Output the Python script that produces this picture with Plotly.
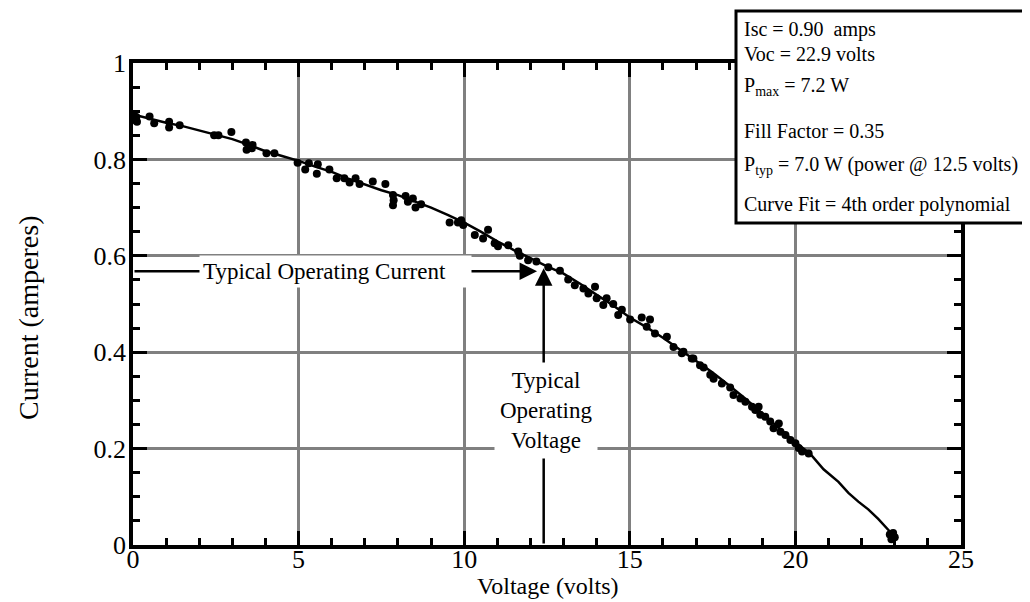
import plotly.graph_objects as go

# measured I-V points (volts, amps)
meas_v = [0.02, 0.05, 0.10, 0.12, 0.50, 0.64, 1.09, 1.09, 1.41, 2.45, 2.58, 2.97,
          3.41, 3.43, 3.61, 3.59, 4.03, 4.27, 4.97, 5.20, 5.31, 5.55, 5.58, 5.93,
          6.15, 6.38, 6.54, 6.72, 6.84, 7.24, 7.62, 7.85, 7.85, 7.87, 8.23, 8.30,
          8.45, 8.53, 8.70, 9.56, 9.81, 9.91, 9.97, 10.32, 10.57, 10.72, 10.92, 11.02,
          11.33, 11.63, 11.68, 11.93, 12.18, 12.54, 12.89, 13.14, 13.34, 13.60, 13.95,
          13.75, 14.00, 14.20, 14.30, 14.50, 14.65, 14.76, 15.01, 15.36, 15.61, 15.51,
          15.76, 16.12, 16.32, 16.57, 16.62, 16.87, 16.92, 17.12, 17.23, 17.43, 17.53,
          17.78, 18.03, 18.13, 18.34, 18.49, 18.69, 18.79, 18.89, 18.94, 19.09, 19.24,
          19.34, 19.50, 19.55, 19.70, 19.85, 20.00, 20.10, 20.20, 20.40,
          22.85, 22.90, 22.95, 23.00]
meas_i = [0.893, 0.882, 0.888, 0.878, 0.889, 0.875, 0.878, 0.866, 0.871, 0.850, 0.850, 0.857,
          0.835, 0.820, 0.830, 0.823, 0.813, 0.813, 0.793, 0.779, 0.792, 0.770, 0.790, 0.779,
          0.761, 0.761, 0.752, 0.761, 0.749, 0.754, 0.749, 0.726, 0.705, 0.715, 0.724, 0.712,
          0.719, 0.700, 0.707, 0.669, 0.669, 0.674, 0.664, 0.643, 0.636, 0.654, 0.626, 0.620,
          0.622, 0.609, 0.600, 0.591, 0.588, 0.576, 0.569, 0.551, 0.539, 0.532, 0.536,
          0.522, 0.512, 0.498, 0.512, 0.500, 0.477, 0.488, 0.468, 0.472, 0.468, 0.453,
          0.439, 0.432, 0.411, 0.398, 0.401, 0.387, 0.387, 0.373, 0.368, 0.353, 0.345,
          0.335, 0.327, 0.311, 0.304, 0.297, 0.287, 0.280, 0.287, 0.270, 0.266, 0.256,
          0.242, 0.252, 0.235, 0.228, 0.218, 0.211, 0.201, 0.194, 0.190,
          0.022, 0.012, 0.025, 0.016]

# curve fit line
fit_v = [0, 0.5, 1.0, 1.5, 2.0, 2.5, 3.0, 3.5, 4.0, 4.5, 5.0, 5.5, 6.0, 6.5, 7.0, 7.5,
         8.0, 8.5, 9.0, 9.5, 10.0, 10.5, 11.0, 11.5, 12.0, 12.5, 13.0, 13.5, 14.0, 14.5,
         15.0, 15.5, 16.0, 16.5, 17.0, 17.5, 18.0, 18.5, 19.0, 19.5, 20.0, 20.45, 20.85,
         21.3, 21.6, 21.9, 22.2, 22.5, 22.85]
fit_i = [0.893, 0.884, 0.876, 0.869, 0.860, 0.850, 0.842, 0.830, 0.817, 0.807, 0.797,
         0.785, 0.774, 0.760, 0.748, 0.736, 0.726, 0.713, 0.700, 0.685, 0.669, 0.650,
         0.630, 0.612, 0.595, 0.578, 0.563, 0.542, 0.519, 0.497, 0.472, 0.452, 0.430,
         0.406, 0.383, 0.358, 0.331, 0.303, 0.273, 0.244, 0.213, 0.189, 0.157, 0.131,
         0.108, 0.090, 0.074, 0.054, 0.028]

# operating point
op_v = 12.4
op_i = 0.574
cur_tip_v = 12.2
cur_i = 0.568

stats_lines = [
    "Isc = 0.90  amps",
    "Voc = 22.9 volts",
    "P<sub>max</sub> = 7.2 W",
    "Fill Factor = 0.35",
    "P<sub>typ</sub> = 7.0 W (power @ 12.5 volts)",
    "Curve Fit = 4th order polynomial",
]

# page has an 8px body margin, so the figure is drawn 8px in from the window corner
OFF = 8
W, H = 1022, 594
L, R, T, B = 125, 69, 55, 57
FONT = "Liberation Serif, Times New Roman, serif"


def px(sx):
    return (sx - OFF - L) / (W - L - R)


def py(sy):
    return (H - B - (sy - OFF)) / (H - T - B)


fig = go.Figure()
fig.add_trace(go.Scatter(x=fit_v, y=fit_i, mode="lines",
                         line=dict(color="black", width=2.5), cliponaxis=False))
fig.add_trace(go.Scatter(x=meas_v, y=meas_i, mode="markers",
                         marker=dict(color="black", size=8), cliponaxis=False))

axis_common = dict(
    showline=True, linewidth=3.5, linecolor="black", mirror="ticks",
    ticks="inside", ticklen=14, tickwidth=2.5, tickcolor="black",
    showgrid=True, gridcolor="#808080", zeroline=False,
    tickfont=dict(family=FONT, size=26, color="black"),
)
fig.update_xaxes(range=[0, 25], dtick=5, gridwidth=2.5, ticklabelstandoff=-12,
                 minor=dict(dtick=1, ticks="inside", ticklen=7, tickwidth=2.5,
                            tickcolor="black", showgrid=False),
                 **axis_common)
fig.update_yaxes(range=[0, 1], dtick=0.2, gridwidth=3, ticklabelstandoff=-2,
                 minor=dict(dtick=0.05, ticks="inside", ticklen=7, tickwidth=2.5,
                            tickcolor="black", showgrid=False),
                 **axis_common)

# arrows to the operating point
fig.add_annotation(x=cur_tip_v, y=cur_i, ax=0, ay=cur_i,
                   xref="x", yref="y", axref="x", ayref="y", text="",
                   showarrow=True, arrowhead=2, arrowsize=1.4, arrowwidth=2.5,
                   arrowcolor="black")
fig.add_annotation(x=op_v, y=op_i, ax=op_v, ay=0,
                   xref="x", yref="y", axref="x", ayref="y", text="",
                   showarrow=True, arrowhead=2, arrowsize=1.4, arrowwidth=2.5,
                   arrowcolor="black")

fig.add_annotation(x=px(335), y=cur_i, xref="paper", yref="y",
                   text="Typical Operating Current\u00a0\u00a0\u00a0\u00a0",
                   showarrow=False, bgcolor="white", borderpad=3,
                   xanchor="center", yanchor="middle",
                   font=dict(family=FONT, size=23, color="black"))
fig.add_annotation(x=px(546), y=py(410), xref="paper", yref="paper",
                   text="Typical<br>Operating<br>Voltage",
                   showarrow=False, bgcolor="white", borderpad=5,
                   xanchor="center", yanchor="middle",
                   font=dict(family=FONT, size=23, color="black"))

# stats box
fig.add_shape(type="rect", xref="paper", yref="paper",
              x0=px(736), x1=px(1040), y0=py(223), y1=py(11),
              fillcolor="white", line=dict(color="black", width=3), layer="above")
line_y = [29, 54, 86, 131, 165, 205]
for txt, yy in zip(stats_lines, line_y):
    fig.add_annotation(x=px(742), y=py(yy), xref="paper", yref="paper",
                       text=txt, showarrow=False, xanchor="left", yanchor="middle",
                       font=dict(family=FONT, size=20, color="black"))

# axis titles
fig.add_annotation(x=px(548), y=py(601), xref="paper", yref="paper",
                   text="Voltage (volts)", showarrow=False,
                   xanchor="center", yanchor="bottom",
                   font=dict(family=FONT, size=24, color="black"))
fig.add_annotation(x=px(28), y=py(318), xref="paper", yref="paper",
                   text="Current (amperes)", showarrow=False, textangle=-90,
                   xanchor="center", yanchor="middle",
                   font=dict(family=FONT, size=28, color="black"))

fig.update_layout(
    width=W, height=H, showlegend=False,
    margin=dict(l=L, r=R, t=T, b=B),
    paper_bgcolor="white", plot_bgcolor="white",
)

fig.write_html("out.html")
